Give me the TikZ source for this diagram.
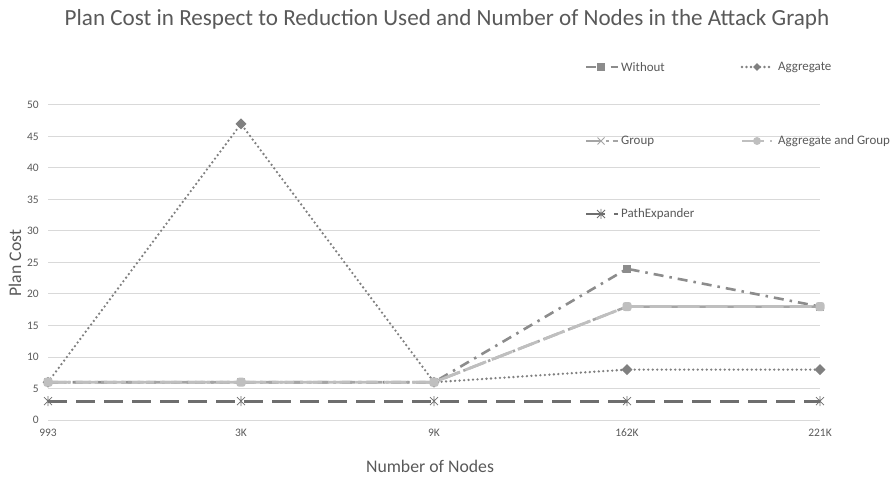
\documentclass[tikz,border=0pt]{standalone}
\usepackage{fontspec}
\setmainfont{Carlito}
\usepackage{xcolor}
\usepackage{tikz}
\usetikzlibrary{shapes.geometric}
\definecolor{txtgray}{HTML}{595959}
\definecolor{gridgray}{HTML}{D9D9D9}
\definecolor{woColor}{HTML}{8C8C8C}
\definecolor{agColor}{HTML}{808080}
\definecolor{grColor}{HTML}{A5A5A5}
\definecolor{agrColor}{HTML}{BFBFBF}
\definecolor{peColor}{HTML}{6E6E6E}
\tikzset{
  ticklab/.style={text=txtgray, font=\fontsize{11.5}{13}\selectfont, inner sep=1bp},
  legtext/.style={text=txtgray, font=\fontsize{13}{15}\selectfont, anchor=west, inner sep=0bp},
  without/.style={woColor, line width=2.6bp, dash pattern=on 10bp off 6bp on 2.5bp off 6bp},
  aggr/.style={agColor, line width=2.6bp, line cap=round, dash pattern=on 0bp off 4.5bp},
  group/.style={grColor, line width=2.6bp, dash pattern=on 16bp off 4bp on 2.5bp off 4bp},
  aggrgroup/.style={agrColor, line width=2.8bp, dash pattern=on 22bp off 6bp},
  pathexp/.style={peColor, line width=2.8bp, dash pattern=on 19bp off 9bp},
  sqmark/.style={rectangle, fill=woColor, minimum size=8bp, inner sep=0bp},
  dmmark/.style={diamond, fill=agColor, minimum size=11bp, inner sep=0bp},
  cmark/.style={rectangle, rounded corners=2.5bp, fill=agrColor, minimum size=9bp, inner sep=0bp},
  xmark/.pic={\draw[grColor, line width=0.8bp] (-3.5,-3.5) -- (3.5,3.5) (-3.5,3.5) -- (3.5,-3.5);},
  starmark/.pic={\draw[peColor, line width=0.8bp] (-4,-4) -- (4,4) (-4,4) -- (4,-4) (0,-5) -- (0,5);}
}
\begin{document}
\begin{tikzpicture}[x=1bp,y=-1bp]
  \useasboundingbox (0,0) rectangle (894,478);
  % grid and y ticks
  \foreach \v in {0,5,...,50} {
    \draw[gridgray, line width=1bp] (48,{420-6.3*\v}) -- (820,{420-6.3*\v});
    \node[ticklab, anchor=east] at (40,{420-6.3*\v}) {\v};
  }
  % x ticks
  \foreach \l [count=\i from 0] in {993,3K,9K,162K,221K}
    \node[ticklab] at ({48+193*\i},433) {\l};
  % titles
  \node[text=txtgray, font=\fontsize{23.2}{27}\selectfont] (title) at (447,19) {Plan Cost in Respect to Reduction Used and Number of Nodes in the Attack Graph};
  \node[text=txtgray, font=\fontsize{17.8}{21}\selectfont] (xtitle) at (430,466) {Number of Nodes};
  \node[text=txtgray, font=\fontsize{17.8}{21}\selectfont, rotate=90] (ytitle) at (15,263) {Plan Cost};
  % data points
  \foreach \v [count=\i from 0] in {6,6,6,24,18}
    \coordinate (wo\i) at ({48+193*\i},{420-6.3*\v});
  \foreach \v [count=\i from 0] in {6,47,6,8,8}
    \coordinate (ag\i) at ({48+193*\i},{420-6.3*\v});
  \foreach \v [count=\i from 0] in {6,6,6,18,18}
    \coordinate (gr\i) at ({48+193*\i},{420-6.3*\v});
  \foreach \v [count=\i from 0] in {6,6,6,18,18}
    \coordinate (agr\i) at ({48+193*\i},{420-6.3*\v});
  \foreach \v [count=\i from 0] in {3,3,3,3,3}
    \coordinate (pe\i) at ({48+193*\i},{420-6.3*\v});
  % series
  \draw[without] (wo0) -- (wo1) -- (wo2) -- (wo3) -- (wo4);
  \foreach \i in {0,...,4} \node[sqmark] at (wo\i) {};
  \draw[aggr] (ag0) -- (ag1) -- (ag2) -- (ag3) -- (ag4);
  \foreach \i in {0,...,4} \node[dmmark] at (ag\i) {};
  \draw[group] (gr0) -- (gr1) -- (gr2) -- (gr3) -- (gr4);
  \foreach \i in {0,...,4} \pic at (gr\i) {xmark};
  \draw[aggrgroup] (agr0) -- (agr1) -- (agr2) -- (agr3) -- (agr4);
  \foreach \i in {0,...,4} \node[cmark] at (agr\i) {};
  \draw[pathexp] (pe0) -- (pe1) -- (pe2) -- (pe3) -- (pe4);
  \foreach \i in {0,...,4} \pic at (pe\i) {starmark};
  % legend
  \coordinate (lwo) at (586,67);
  \coordinate (lag) at (742,67);
  \coordinate (lgr) at (586,141);
  \coordinate (lagr) at (742,141);
  \coordinate (lpe) at (586,214);
  \draw[without] (lwo) -- ++(32,0);
  \node[sqmark] at ([xshift=15bp]lwo) {};
  \node[legtext] (twithout) at ([xshift=35bp]lwo) {Without};
  \draw[aggr] (lag) -- ++(30,0);
  \node[dmmark, minimum size=8bp] at ([xshift=15bp]lag) {};
  \node[legtext] (taggr) at ([xshift=36bp]lag) {Aggregate};
  \draw[group] (lgr) -- ++(32,0);
  \pic at ([xshift=15bp]lgr) {xmark};
  \node[legtext] (tgroup) at ([xshift=35bp]lgr) {Group};
  \draw[aggrgroup] (lagr) -- ++(30,0);
  \node[circle, fill=agrColor, minimum size=8bp, inner sep=0bp] at ([xshift=15bp]lagr) {};
  \node[legtext] (taggrgroup) at ([xshift=36bp]lagr) {Aggregate and Group};
  \draw[pathexp] (lpe) -- ++(32,0);
  \pic at ([xshift=15bp]lpe) {starmark};
  \node[legtext] (tpathexp) at ([xshift=35bp]lpe) {PathExpander};
\end{tikzpicture}
\end{document}
